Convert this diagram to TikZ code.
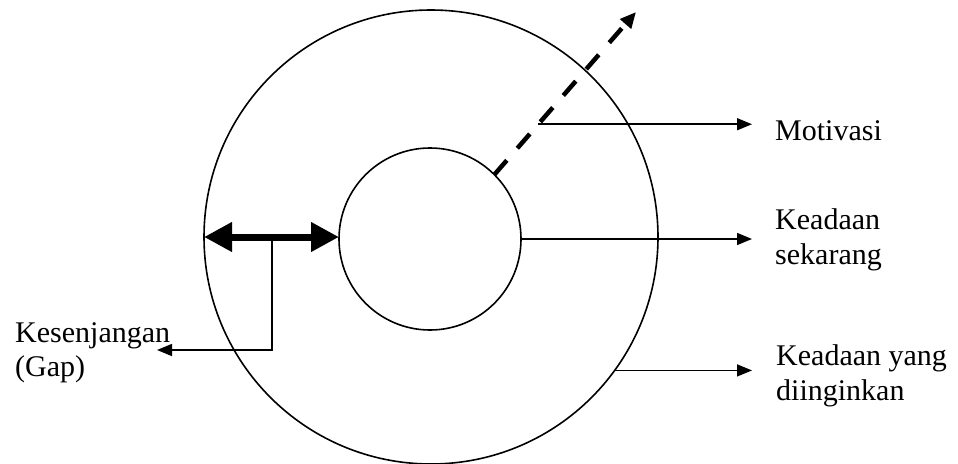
\documentclass[tikz,border=0pt]{standalone}
\usepackage{fontspec}
\setmainfont{Liberation Serif}
\usetikzlibrary{arrows.meta,calc}
\begin{document}
\begin{tikzpicture}[x=1pt,y=-1pt,
  ring/.style={circle,draw,line width=1.6pt,inner sep=0pt,outer sep=0pt},
  lbl/.style={anchor=base west,inner sep=0pt,font=\fontsize{30pt}{35pt}\selectfont},
  thinarrow/.style={line width=1.5pt,-{Triangle[length=15pt,width=12pt]}},
  gaparrow/.style={line width=7pt,{Triangle[length=28pt,width=28pt]}-{Triangle[length=28pt,width=28pt]}},
  motarrow/.style={line width=4.5pt,dash pattern=on 19pt off 16pt,-{Triangle[length=16pt,width=14pt]}}]
\useasboundingbox (0,0) rectangle (958,463);
\fill[white] (0,0) rectangle (958,463);
\node[ring,minimum size=454pt] (outer) at (431,237) {};
\node[ring,minimum size=182pt] (inner) at (430,239) {};
% gap double arrow
\draw[gaparrow] (outer.west) -- (inner.west |- outer.west);
\coordinate (gaptop) at (272,237);
\coordinate (gapend) at (157,350);
\draw[thinarrow] (gaptop) |- (gapend);
% motivation dashed arrow
\coordinate (mtip) at (636,12);
\draw[motarrow] (inner.45) -- (mtip);
\coordinate (mstart) at ($(inner.45)!0.31!(mtip)$);
\coordinate (tipcol) at (752,0);
\draw[thinarrow] (mstart) -- (mstart -| tipcol);
\draw[thinarrow] (inner.east) -- (inner.east -| tipcol);
\draw[thinarrow] (outer.-36.5) -- (outer.-36.5 -| tipcol);
% labels
\node[lbl] (mot) at (775,140) {Motivasi};
\node[lbl] (sek1) at (775,229) {Keadaan};
\node[lbl] (sek2) at (775,264) {sekarang};
\node[lbl] (ing1) at (776,365) {Keadaan yang};
\node[lbl] (ing2) at (776,400) {diinginkan};
\node[lbl] (gap1) at (15,342) {Kesenjangan};
\node[lbl] (gap2) at (15,376) {(Gap)};
\end{tikzpicture}
\end{document}
